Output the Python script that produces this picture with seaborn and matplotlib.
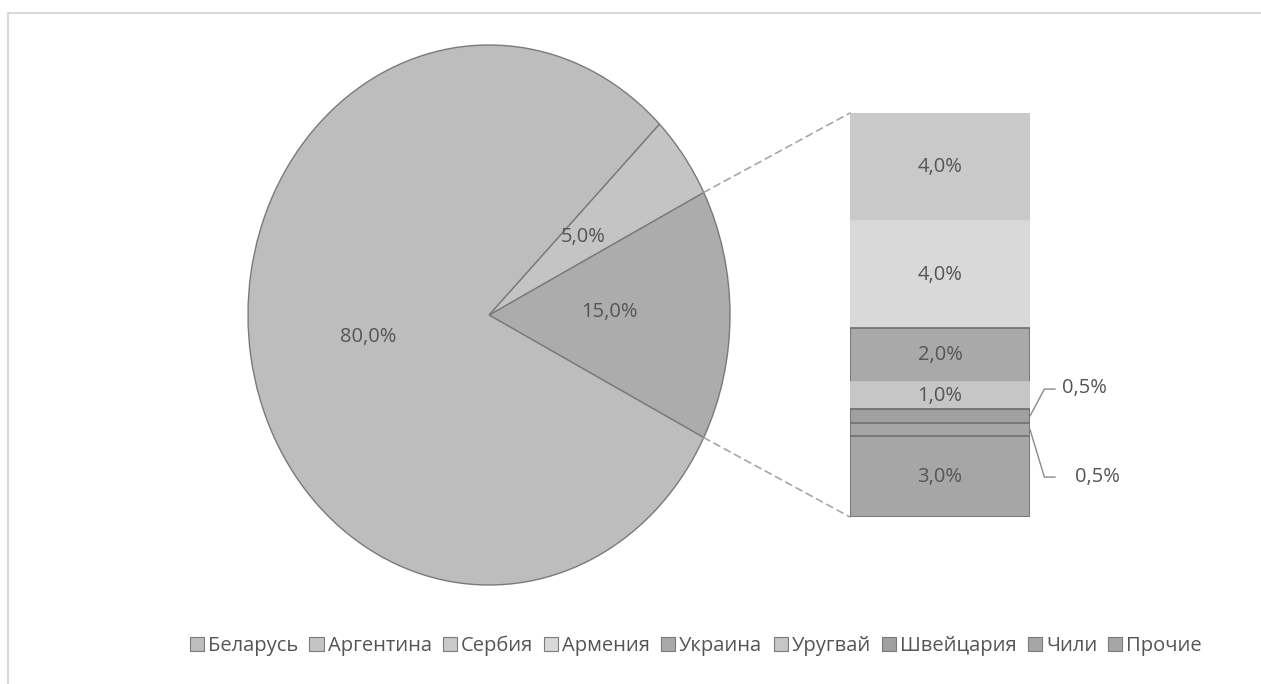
import numpy as np
import pandas as pd
import matplotlib
matplotlib.use("Agg")
import matplotlib.pyplot as plt
from matplotlib.patches import ConnectionPatch, Patch
from matplotlib.lines import Line2D
import seaborn as sns

# pie part
pie_labels = ["Беларусь", "Аргентина", "Прочие страны"]
pie_values = [80.0, 5.0, 15.0]
pie_colors = ["#bdbdbd", "#c4c4c4", "#acacac"]

# bar part (top to bottom)
bar_labels = ["Сербия", "Армения", "Украина", "Уругвай", "Швейцария", "Чили", "Прочие"]
bar_values = [4.0, 4.0, 2.0, 1.0, 0.5, 0.5, 3.0]
bar_colors = ["#c9c9c9", "#d9d9d9", "#a9a9a9", "#c6c6c6", "#a0a0a0", "#a6a6a6", "#a6a6a6"]
bar_edges = ["#c9c9c9", "#d9d9d9", "#6f6f6f", "#c6c6c6", "#6a6a6a", "#6f6f6f", "#6f6f6f"]

legend_labels = ["Беларусь", "Аргентина"] + bar_labels
legend_colors = ["#bdbdbd", "#c4c4c4"] + bar_colors

sns.set_theme(style="white")
plt.rcParams["font.family"] = ["Open Sans", "DejaVu Sans"]
txt = "#555555"
fs = 14.5

W, H = 1261, 684
fig = plt.figure(figsize=(W / 100, H / 100), dpi=100)

# outer frame (only top/left visible)
fig.add_artist(Line2D([8 / W, 1], [1 - 13 / H, 1 - 13 / H], color="#d9d9d9", lw=1.5))
fig.add_artist(Line2D([8 / W, 8 / W], [0, 1 - 13 / H], color="#d9d9d9", lw=1.5))

# pie
ax_pie = fig.add_axes([248 / W, (H - 585) / H, 482 / W, 540 / H])
order = [2, 1, 0]
wedges, _ = ax_pie.pie([pie_values[i] for i in order], colors=[pie_colors[i] for i in order],
                       startangle=-27, counterclock=True,
                       wedgeprops=dict(edgecolor="#7a7a7a", linewidth=1.0))
ax_pie.set_aspect("auto")
ax_pie.set_xlim(-1, 1)
ax_pie.set_ylim(-1, 1)
ax_pie.axis("off")

pie_lbl_pos = {0: (-0.50, -0.08), 1: (0.39, 0.29), 2: (0.50, 0.01)}
for i, (x, y) in pie_lbl_pos.items():
    ax_pie.text(x, y, f"{pie_values[i]:.1f}%".replace(".", ","), ha="center", va="center",
                fontsize=fs, color=txt)

# stacked bar via layered seaborn bars
ax_bar = fig.add_axes([850 / W, (H - 517) / H, 180 / W, 404 / H])
rev_vals = bar_values[::-1]
cum = np.cumsum(rev_vals)
bottoms = cum - np.array(rev_vals)
rev_cols = bar_colors[::-1]
rev_edges = bar_edges[::-1]
for k in range(len(rev_vals) - 1, -1, -1):
    df = pd.DataFrame({"x": ["a"], "y": [cum[k]]})
    sns.barplot(data=df, x="x", y="y", color=rev_cols[k], width=1.0, ax=ax_bar,
                saturation=1, edgecolor=rev_edges[k], linewidth=1.2)
ax_bar.set_xlim(-0.5, 0.5)
ax_bar.set_ylim(0, sum(bar_values))
ax_bar.axis("off")

for k, v in enumerate(rev_vals):
    s = f"{v:.1f}%".replace(".", ",")
    mid = bottoms[k] + v / 2
    if v >= 1:
        ax_bar.text(0, mid, s, ha="center", va="center", fontsize=fs, color=txt)

# small labels with leader lines
sw_mid = bottoms[2] + rev_vals[2] / 2
ch_mid = bottoms[1] + rev_vals[1] / 2
ax_bar.plot([0.5, 0.58, 0.64], [sw_mid, 4.75, 4.75], color="#8a8a8a", lw=1, clip_on=False)
ax_bar.text(0.68, 4.8, "0,5%", ha="left", va="center", fontsize=fs, color=txt)
ax_bar.plot([0.5, 0.58, 0.64], [ch_mid, 1.48, 1.48], color="#8a8a8a", lw=1, clip_on=False)
ax_bar.text(0.75, 1.5, "0,5%", ha="left", va="center", fontsize=fs, color=txt)

# dashed connectors
a = np.deg2rad(27)
for sgn, yb in [(1, sum(bar_values)), (-1, 0)]:
    con = ConnectionPatch(xyA=(np.cos(a), sgn * np.sin(a)), coordsA=ax_pie.transData,
                          xyB=(-0.5, yb), coordsB=ax_bar.transData,
                          color="#a6a6a6", lw=1.2, linestyle=(0, (4, 3)))
    fig.add_artist(con)

# legend
handles = [Patch(facecolor=c, edgecolor="#7a7a7a", linewidth=0.8) for c in legend_colors]
fig.legend(handles, legend_labels, loc="center", bbox_to_anchor=(696 / W, 1 - 646 / H),
           ncol=len(legend_labels), frameon=False, fontsize=fs, handlelength=0.7,
           handleheight=0.7, handletextpad=0.2, columnspacing=0.55, labelcolor=txt)

fig.savefig("out.png", dpi=100, facecolor="white")
